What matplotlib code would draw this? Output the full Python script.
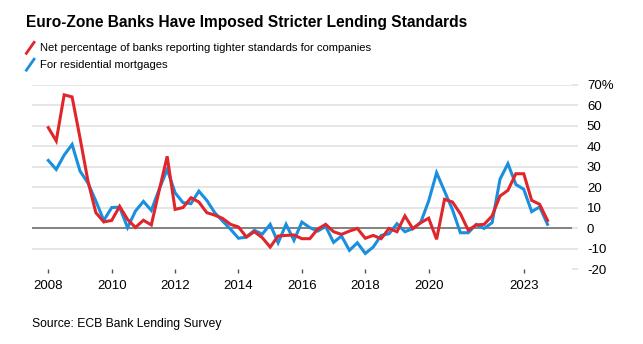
import numpy as np
import pandas as pd
import matplotlib
matplotlib.use("Agg")
import matplotlib.pyplot as plt
from matplotlib.lines import Line2D

plt.rcParams["font.family"] = ["Liberation Sans", "DejaVu Sans"]

# ECB Bank Lending Survey, quarterly, 2008Q1 - 2023Q4
quarters = pd.period_range("2008Q1", "2023Q4", freq="Q")
companies = [49, 42.5, 65, 64, 44, 23, 7.5, 3, 3.7, 10.6, 4.2, 0.3, 3.8, 1.5, 18.5, 35,
             9.1, 10, 14.8, 12.7, 7.5, 6.3, 4.7, 1.8, 0.5, -4.4, -1.8, -4.7, -9.3, -3.9, -3.6, -3.4,
             -5.2, -5.2, -0.5, 1.8, -1.8, -3.1, -1.5, -0.2, -5, -3.6, -5.2, -0.2, -1.8, 5.9, -0.3, 2.6,
             4.8, -5.5, 14, 12.7, 7, -1.1, 1.5, 1.8, 5.9, 15.6, 18.4, 26.5, 26.5, 13.5, 11.6, 3.7]
mortgages = [33, 28.6, 35.6, 40.8, 27.8, 22, 13.2, 3.7, 10, 10.2, 0.2, 8.3, 13, 8.6, 19, 28.6,
             17.2, 12.4, 11.9, 18, 13.5, 7.5, 3.4, -0.6, -5, -4.4, -1.1, -3, 1.8, -7.2, 1.8, -6,
             2.9, 0.2, -1.5, 0.8, -7, -3.9, -10.9, -7.2, -12.4, -9.3, -3.6, -2.8, 2.1, -1.8, -0.3, 2.8,
             13.2, 27, 18, 9, -2.3, -2.3, 1.8, -0.2, 2.6, 23.8, 31.4, 21.3, 18.9, 8, 10.3, 1.8]
year_ticks = [2008, 2010, 2012, 2014, 2016, 2018, 2020, 2023]
pct_ticks = [-20, -10, 0, 10, 20, 30, 40, 50, 60, 70]

red = "#e0262b"
blue = "#1b8fdf"

x = quarters.year + (quarters.quarter - 1) / 4

fig = plt.figure(figsize=(6.43, 3.44), dpi=100)
ax = fig.add_axes([0.0493, 0.218, 0.8397, 0.536])

ax.plot(x, mortgages, color=blue, lw=2.2, solid_joinstyle="miter", zorder=3)
ax.plot(x, companies, color=red, lw=2.2, solid_joinstyle="miter", zorder=4)
ax.axhline(0, color="#7a7a7a", lw=1.3, zorder=2)

ax.set_xlim(2007.476, 2024.51)
ax.set_ylim(-20, 70)
for s in ax.spines.values():
    s.set_visible(False)

ax.set_xticks(year_ticks)
ax.set_xticklabels([str(y) for y in year_ticks], fontsize=9.5)
ax.tick_params(axis="x", length=3, width=1, color="#555555", pad=5)

ax.yaxis.tick_right()
ax.set_yticks(pct_ticks)
ax.set_yticklabels([f"{v}%" if v == 70 else str(v) for v in pct_ticks], fontsize=9.5)
ax.tick_params(axis="y", length=4, width=1.2, color="#e2e2e2", pad=7)
ax.grid(axis="y", color="#e2e2e2", lw=1.2, zorder=1)
ax.yaxis.get_major_ticks()[0].gridline.set_visible(False)

fig.text(0.041, 0.935, "Euro-Zone Banks Have Imposed Stricter Lending Standards",
         fontsize=11.2, fontweight="bold", va="center")

labels = ["Net percentage of banks reporting tighter standards for companies",
          "For residential mortgages"]
for i, (lab, c) in enumerate(zip(labels, [red, blue])):
    yc = 0.861 - i * 0.049
    fig.add_artist(Line2D([0.041, 0.053], [yc - 0.016, yc + 0.016], color=c, lw=2,
                          transform=fig.transFigure))
    fig.text(0.062, yc, lab, fontsize=8.1, va="center")

fig.text(0.05, 0.058, "Source: ECB Bank Lending Survey", fontsize=8.7, va="center")

fig.savefig("out.png", dpi=100)
